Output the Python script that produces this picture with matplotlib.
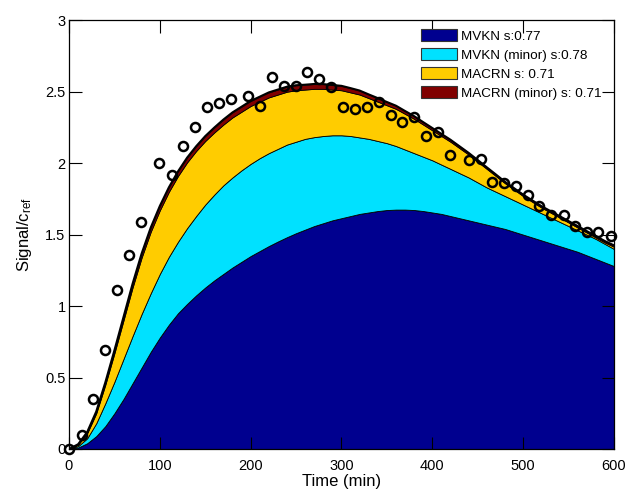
import matplotlib
matplotlib.use("Agg")
import matplotlib.pyplot as plt

plt.rcParams['font.family'] = ['Liberation Sans', 'DejaVu Sans']
plt.rcParams['mathtext.fontset'] = 'custom'
plt.rcParams['mathtext.rm'] = 'Liberation Sans'
plt.rcParams['mathtext.it'] = 'Liberation Sans:italic'

# model time grid (min)
time = list(range(0, 601, 10))

# upper edge of each stacked layer (cumulative signal)
mvkn_top = [0, 0.01, 0.04, 0.09, 0.16, 0.25, 0.35, 0.46, 0.57, 0.68,
            0.78, 0.87, 0.95, 1.015, 1.075, 1.13, 1.18, 1.225, 1.27, 1.31,
            1.35, 1.385, 1.42, 1.452, 1.482, 1.51, 1.535, 1.56, 1.58, 1.60,
            1.615, 1.63, 1.645, 1.655, 1.665, 1.672, 1.675, 1.675, 1.672, 1.665,
            1.655, 1.645, 1.63, 1.615, 1.60, 1.585, 1.57, 1.555, 1.54, 1.52,
            1.50, 1.48, 1.46, 1.44, 1.42, 1.40, 1.38, 1.355, 1.33, 1.305,
            1.28]
mvkn_minor_top = [0, 0.02, 0.075, 0.18, 0.32, 0.47, 0.63, 0.79, 0.945, 1.09,
                  1.225, 1.345, 1.45, 1.545, 1.63, 1.71, 1.78, 1.845, 1.90, 1.95,
                  1.995, 2.035, 2.07, 2.10, 2.13, 2.15, 2.17, 2.182, 2.19, 2.195,
                  2.195, 2.19, 2.18, 2.17, 2.155, 2.14, 2.12, 2.095, 2.07, 2.045,
                  2.02, 1.99, 1.96, 1.93, 1.90, 1.865, 1.83, 1.80, 1.77, 1.74,
                  1.71, 1.68, 1.65, 1.62, 1.59, 1.56, 1.53, 1.50, 1.47, 1.435,
                  1.40]
macrn_top = [0, 0.03, 0.11, 0.25, 0.45, 0.67, 0.90, 1.13, 1.34, 1.52,
             1.67, 1.80, 1.91, 2.005, 2.085, 2.155, 2.215, 2.27, 2.32, 2.36,
             2.40, 2.43, 2.46, 2.48, 2.50, 2.51, 2.515, 2.52, 2.52, 2.515,
             2.51, 2.495, 2.48, 2.455, 2.43, 2.405, 2.38, 2.345, 2.31, 2.27,
             2.23, 2.19, 2.15, 2.105, 2.06, 2.01, 1.96, 1.91, 1.86, 1.815,
             1.77, 1.73, 1.69, 1.655, 1.62, 1.585, 1.55, 1.515, 1.48, 1.445,
             1.415]
macrn_minor_top = [0, 0.033, 0.118, 0.262, 0.466, 0.69, 0.923, 1.156, 1.368, 1.549,
                   1.70, 1.831, 1.942, 2.038, 2.118, 2.189, 2.249, 2.305, 2.355, 2.395,
                   2.435, 2.465, 2.495, 2.515, 2.535, 2.545, 2.549, 2.554, 2.553, 2.547,
                   2.541, 2.525, 2.508, 2.481, 2.455, 2.428, 2.402, 2.365, 2.329, 2.287,
                   2.246, 2.205, 2.164, 2.118, 2.072, 2.022, 1.971, 1.921, 1.87, 1.825,
                   1.78, 1.74, 1.70, 1.665, 1.63, 1.595, 1.56, 1.525, 1.49, 1.455,
                   1.425]

labels = ['MVKN s:0.77', 'MVKN (minor) s:0.78', 'MACRN s: 0.71',
          'MACRN (minor) s: 0.71']
colors = ['#00008F', '#00E1FF', '#FFCC00', '#800000']

# observations
obs_t = [0, 14, 26.7, 40, 52.8, 66, 79, 99.5, 113.5, 126, 139, 152, 165, 178,
         197.5, 210, 223.5, 236.5, 249.5, 262.5, 275.5, 288.5, 301.7, 314.5,
         328, 341, 354, 367, 380, 393.5, 406, 419.5, 440.5, 453.5, 466, 479,
         492.5, 505, 518, 531, 544.5, 557.5, 570.5, 583, 597]
obs_v = [0, 0.10, 0.35, 0.69, 1.11, 1.36, 1.59, 2.00, 1.92, 2.12, 2.25, 2.39,
         2.42, 2.45, 2.47, 2.40, 2.60, 2.54, 2.54, 2.64, 2.59, 2.53, 2.39, 2.38,
         2.39, 2.43, 2.34, 2.29, 2.32, 2.19, 2.22, 2.06, 2.02, 2.03, 1.87, 1.86,
         1.84, 1.78, 1.70, 1.64, 1.64, 1.56, 1.52, 1.52, 1.49]

fig = plt.figure(figsize=(6.3, 4.9), dpi=100)
ax = fig.add_axes([0.1095, 0.0837, 0.865, 0.875])

tops = [mvkn_top, mvkn_minor_top, macrn_top, macrn_minor_top]
lower = [0] * len(time)
for top, col, lab in zip(tops, colors, labels):
    ax.fill_between(time, lower, top, facecolor=col, edgecolor='black',
                    linewidth=0.6, label=lab)
    lower = top
ax.plot(time, macrn_minor_top, color='black', linewidth=1.5)
ax.plot(obs_t, obs_v, linestyle='none', marker='o', markersize=6.5,
        markerfacecolor='none', markeredgecolor='black', markeredgewidth=1.8,
        clip_on=False, zorder=5)

ax.set_xlim(0, 600)
ax.set_ylim(0, 3)
ax.set_xticks([0, 100, 200, 300, 400, 500, 600])
ax.set_yticks([0, 0.5, 1, 1.5, 2, 2.5, 3])
ax.set_yticklabels(['0', '0.5', '1', '1.5', '2', '2.5', '3'])
ax.tick_params(direction='in', length=9, width=0.8, top=True, right=True,
               labelsize=10.5)
ax.tick_params(axis='x', pad=7)
ax.tick_params(axis='y', pad=2.5)
for s in ax.spines.values():
    s.set_linewidth(0.9)
ax.set_xlabel('Time (min)', fontsize=12, labelpad=1)
ax.set_ylabel('Signal/c$_{\\rm ref}$', fontsize=12, labelpad=8)

leg = ax.legend(loc='upper left', bbox_to_anchor=(0.646, 0.98), frameon=False,
                fontsize=9.7, handlelength=2.7, handleheight=1.05,
                handletextpad=0.25, labelspacing=0.38, borderpad=0,
                borderaxespad=0)
for h in leg.legend_handles:
    h.set_edgecolor('#333333')
    h.set_linewidth(0.8)

fig.savefig('out.png', dpi=100)
